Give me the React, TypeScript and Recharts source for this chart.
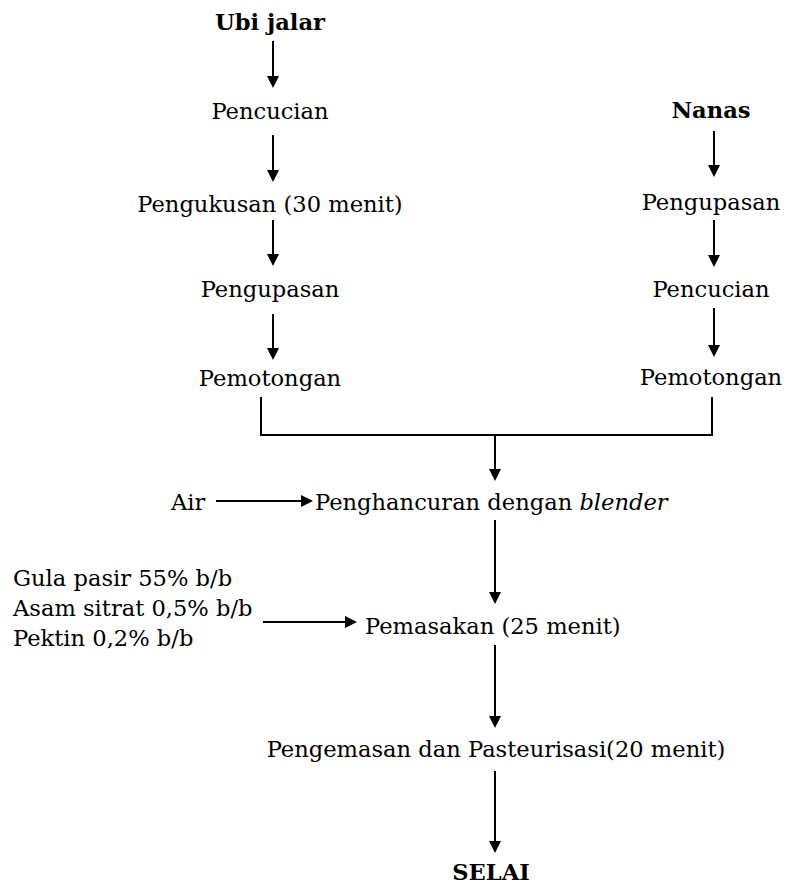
import { ReferenceLine, Scatter, ScatterChart, XAxis, YAxis } from "recharts";

// flow steps, read top to bottom
const ubiJalarSteps = ["Ubi jalar", "Pencucian", "Pengukusan (30 menit)", "Pengupasan", "Pemotongan"];
const ubiJalarRows = [30, 119, 212, 297, 386];
const nanasSteps = ["Nanas", "Pengupasan", "Pencucian", "Pemotongan"];
const nanasRows = [118, 210, 297, 385];
const mainSteps = ["Penghancuran dengan blender", "Pemasakan (25 menit)", "Pengemasan dan Pasteurisasi(20 menit)", "SELAI"];
const mainRows = [510, 634, 757, 880];
const mainStarts = [315, 365, null, null];
const additions = ["Gula pasir 55% b/b", "Asam sitrat 0,5% b/b", "Pektin 0,2% b/b"];
const additionRows = [586, 616, 646];
const waterLabel = "Air";

// columns
const ubiJalarCol = 270;
const nanasCol = 711;
const mainCol = 495;

// arrows
const ubiJalarArrows: [number, number][] = [[41, 88], [135, 182], [220, 266], [314, 360]];
const nanasArrows: [number, number][] = [[131, 177], [220, 267], [308, 357]];
const mainArrows: [number, number][] = [[435, 481], [520, 604], [645, 728], [771, 853]];
const waterArrow = { y: 501, from: 216, to: 313 };
const additionArrow = { y: 622, from: 263, to: 357 };
const join = { left: 261, right: 712, top: 398, y: 435 };

const boldSteps = ["Ubi jalar", "Nanas", "SELAI"];
const FONT = "'DejaVu Serif', serif";

type Node = { x: number; y: number; label: string };

const centeredNodes: Node[] = [
  ...ubiJalarSteps.map((label, i) => ({ x: ubiJalarCol, y: ubiJalarRows[i], label })),
  ...nanasSteps.map((label, i) => ({ x: nanasCol, y: nanasRows[i], label })),
  ...mainSteps
    .map((label, i) => ({ x: i === 3 ? 491 : 496, y: mainRows[i], label, start: mainStarts[i] }))
    .filter((n) => n.start === null),
];

const startNodes: Node[] = [
  ...mainSteps
    .map((label, i) => ({ x: mainStarts[i] ?? 0, y: mainRows[i], label }))
    .filter((_, i) => mainStarts[i] !== null),
  ...additions.map((label, i) => ({ x: 13, y: additionRows[i], label })),
  { x: 171, y: 510, label: waterLabel },
];

function StepText(props: any, anchor: "middle" | "start") {
  const { cx, cy, payload } = props;
  const label: string = payload.label;
  const bold = boldSteps.includes(label);
  const italicWord = "blender";
  const hasItalic = label.endsWith(italicWord);
  return (
    <text
      x={cx}
      y={cy}
      textAnchor={anchor}
      fontFamily={FONT}
      fontSize={22.6}
      fontWeight={bold ? 700 : 400}
      fill="#000"
    >
      {hasItalic ? (
        <>
          {label.slice(0, label.length - italicWord.length)}
          <tspan fontStyle="italic">{italicWord}</tspan>
        </>
      ) : (
        label
      )}
    </text>
  );
}

function ArrowShape(props: any) {
  const { x1, y1, x2, y2 } = props;
  const dx = x2 - x1;
  const dy = y2 - y1;
  const len = Math.hypot(dx, dy) || 1;
  const ux = dx / len;
  const uy = dy / len;
  const head = 12;
  const half = 6;
  const bx = x2 - ux * head;
  const by = y2 - uy * head;
  return (
    <g>
      <line x1={x1} y1={y1} x2={bx} y2={by} stroke="#000" strokeWidth={2} />
      <polygon
        points={`${x2},${y2} ${bx - uy * half},${by + ux * half} ${bx + uy * half},${by - ux * half}`}
        fill="#000"
      />
    </g>
  );
}

function PlainLine(props: any) {
  const { x1, y1, x2, y2 } = props;
  return <line x1={x1} y1={y1} x2={x2} y2={y2} stroke="#000" strokeWidth={2} strokeLinecap="square" />;
}

export default function App() {
  const vArrows = [
    ...ubiJalarArrows.map(([a, b]) => ({ x: 273, a, b })),
    ...nanasArrows.map(([a, b]) => ({ x: 714, a, b })),
    ...mainArrows.map(([a, b]) => ({ x: mainCol, a, b })),
  ];
  const hArrows = [waterArrow, additionArrow];
  const joinLines = [
    [{ x: join.left, y: join.top }, { x: join.left, y: join.y }],
    [{ x: join.left, y: join.y }, { x: join.right, y: join.y }],
    [{ x: join.right, y: join.y }, { x: join.right, y: join.top }],
  ];

  return (
    <div style={{ position: "absolute", left: 0, top: 0, background: "#fff" }}>
      <ScatterChart width={787} height={885} margin={{ top: 0, right: 0, bottom: 0, left: 0 }}>
        <XAxis type="number" dataKey="x" domain={[0, 787]} hide />
        <YAxis type="number" dataKey="y" domain={[0, 885]} reversed hide />
        {joinLines.map((seg, i) => (
          <ReferenceLine key={`j${i}`} segment={seg} ifOverflow="visible" shape={PlainLine} />
        ))}
        {vArrows.map((d, i) => (
          <ReferenceLine
            key={`v${i}`}
            segment={[{ x: d.x, y: d.a }, { x: d.x, y: d.b }]}
            ifOverflow="visible"
            shape={ArrowShape}
          />
        ))}
        {hArrows.map((d, i) => (
          <ReferenceLine
            key={`h${i}`}
            segment={[{ x: d.from, y: d.y }, { x: d.to, y: d.y }]}
            ifOverflow="visible"
            shape={ArrowShape}
          />
        ))}
        <Scatter
          data={centeredNodes}
          isAnimationActive={false}
          shape={(p: any) => StepText(p, "middle")}
        />
        <Scatter
          data={startNodes}
          isAnimationActive={false}
          shape={(p: any) => StepText(p, "start")}
        />
      </ScatterChart>
    </div>
  );
}
